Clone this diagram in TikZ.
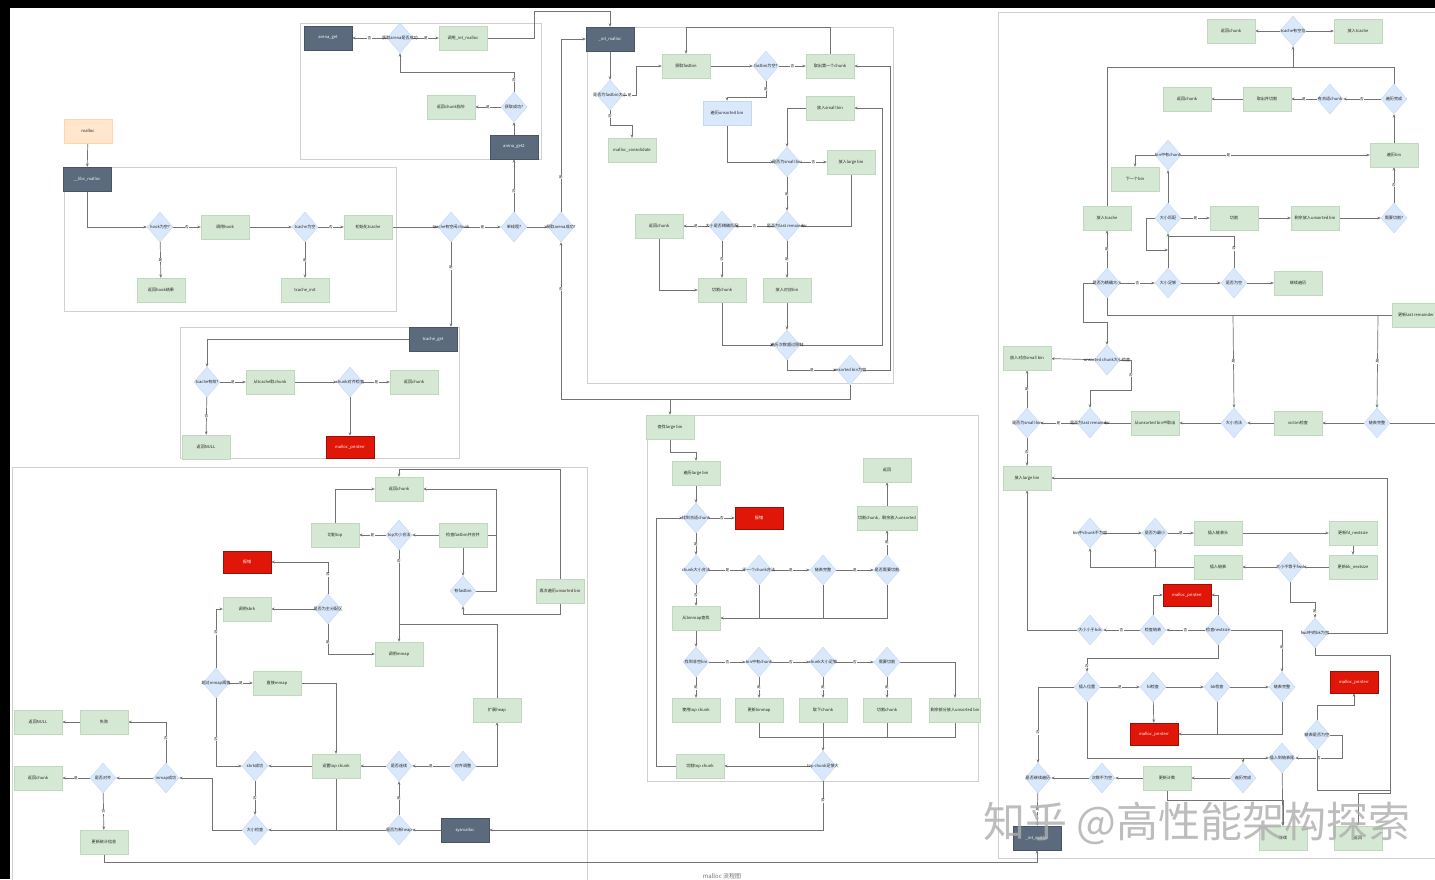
\documentclass[tikz,border=0pt]{standalone}
\usepackage{fontspec}
\setmainfont{Noto Sans CJK SC}
\usetikzlibrary{shapes.geometric,arrows.meta}
\pgfdeclarelayer{bg}
\pgfsetlayers{bg,main}

\definecolor{boxgreen}{RGB}{213,232,212}
\definecolor{boxgreenline}{RGB}{192,216,190}
\definecolor{diablue}{RGB}{218,232,252}
\definecolor{diablueline}{RGB}{198,215,240}
\definecolor{slate}{RGB}{91,106,124}
\definecolor{alarm}{RGB}{224,22,8}
\definecolor{peach}{RGB}{255,230,204}
\definecolor{wire}{RGB}{115,115,115}
\definecolor{framec}{RGB}{208,208,208}
\definecolor{ink}{RGB}{35,35,35}

\tikzset{
  nbase/.style={rectangle, minimum width=48pt, minimum height=24pt, inner sep=1pt,
    font=\fontsize{4.1}{4.8}\selectfont, align=center},
  gbox/.style={nbase, fill=boxgreen, draw=boxgreenline, line width=0.4pt, text=ink},
  bbox/.style={nbase, fill=diablue, draw=diablueline, line width=0.4pt, text=ink},
  kbox/.style={nbase, fill=slate, draw=slate!80!black, line width=0.4pt, text=white},
  rbox/.style={nbase, minimum height=22pt, fill=alarm, draw=alarm!70!black, line width=0.6pt, text=white},
  obox/.style={nbase, fill=peach, draw=peach!85!orange, line width=0.4pt, text=ink},
  dbox/.style={diamond, minimum width=26pt, minimum height=30pt, inner sep=0pt,
    fill=diablue, draw=diablueline, line width=0.4pt},
  lbl/.style={font=\fontsize{4.1}{4.8}\selectfont, text=ink, inner sep=0pt},
  arw/.style={draw=wire, line width=0.7pt, -{Stealth[length=3.4pt,width=2.8pt]}},
  lin/.style={draw=wire, line width=0.7pt},
  yn/.style={font=\fontsize{3.6}{4}\selectfont, text=ink, fill=white, inner sep=0.6pt},
  grp/.style={draw=framec, line width=0.8pt},
}

% node helpers: name, position, text
\newcommand\mkG[3]{\node[gbox] (#1) at (#2) {#3};}
\newcommand\mkB[3]{\node[bbox] (#1) at (#2) {#3};}
\newcommand\mkK[3]{\node[kbox] (#1) at (#2) {#3};}
\newcommand\mkR[3]{\node[rbox] (#1) at (#2) {#3};}
\newcommand\mkO[3]{\node[obox] (#1) at (#2) {#3};}
\newcommand\mkD[3]{\node[dbox] (#1) at (#2) {}; \node[lbl] at (#1.center) {#3};}

\begin{document}
\begin{tikzpicture}[x=1pt,y=-1pt]
\useasboundingbox (0,0) rectangle (1435,879);

% ---------- entry ----------
\mkO{o1}{88,131}{malloc}
\mkK{k1}{87,179}{\_\_libc\_malloc}
\mkD{d1}{160,227}{hook为空?}
\mkG{g1}{225,227}{调用hook}
\mkD{d2}{305,227}{tcache为空}
\mkG{g2}{368,227}{初始化tcache}
\mkG{g3}{161,290}{返回hook结果}
\mkG{g4}{305,290}{tcache\_init}
\mkD{d3}{451,227}{tcache有空闲chunk}
\mkD{d4}{514,227}{单线程?}
\mkD{d5}{561,227}{获取arena成功?}

% ---------- arena ----------
\mkK{k2}{328,38}{arena\_get}
\mkD{d6}{400,38}{获取arena是否成功}
\mkG{g5}{463,38}{调用\_int\_malloc}
\mkD{d7}{514,107}{获取成功?}
\mkG{g6}{451,107}{返回chunk指针}
\mkK{k4}{514,147}{arena\_get2}

% ---------- tcache ----------
\mkK{k3}{433,339}{tcache\_get}
\mkD{d8}{207,382}{tcache有效?}
\mkG{g7}{270,382}{从tcache取chunk}
\mkD{d9}{350,382}{chunk对齐检查}
\mkG{g8}{414,382}{返回chunk}
\mkG{g9}{206,447}{返回NULL}
\mkR{r1}{350,447}{malloc\_printerr}

% ---------- fastbin / unsorted ----------
\mkK{k5}{610,39}{\_int\_malloc}
\mkD{d10}{610,95}{是否为fastbin大小}
\mkG{g10}{686,66}{获取fastbin}
\mkD{d11}{766,66}{fastbin为空?}
\mkG{g11}{830,66}{取出第一个chunk}
\mkG{g12}{632,150}{malloc\_consolidate}
\mkB{b1}{727,113}{遍历unsorted bin}
\mkG{g13}{830,108}{放入small bin}
\mkD{d12}{787,162}{是否为small bin}
\mkG{g14}{851,162}{放入large bin}
\mkD{d13}{787,226}{是否为last remainder}
\mkD{d14}{722,226}{大小是否精确匹配}
\mkG{g15}{659,226}{返回chunk}
\mkG{g16}{722,290}{切割chunk}
\mkG{g17}{787,290}{放入对应bin}
\mkD{d15}{787,345}{遍历次数超过限制}
\mkD{d16}{850,370}{unsorted bin为空}

% ---------- large bin ----------
\mkG{g18}{670,427}{查找large bin}
\mkG{g19}{696,473}{遍历large bin}
\mkD{d17}{696,518}{找到合适chunk}
\mkR{r2}{759,518}{报错}
\mkD{d18}{696,570}{chunk大小合法}
\mkD{d19}{759,570}{下一个chunk合法}
\mkD{d20}{823,570}{链表完整}
\mkD{d21}{887,570}{是否需要切割}
\mkG{g20}{887,518}{切割chunk，剩余放入unsorted}
\mkG{g21}{887,470}{返回}
\mkG{g22}{696,618}{从binmap查找}
\mkD{d22}{696,662}{找到非空bin}
\mkD{d23}{759,662}{bin中有chunk}
\mkD{d24}{823,662}{chunk大小足够}
\mkD{d25}{887,662}{需要切割}
\mkG{g23}{696,710}{使用top chunk}
\mkG{g24}{759,710}{更新binmap}
\mkG{g25}{823,710}{取下chunk}
\mkG{g26}{887,710}{切割chunk}
\mkG{g27}{955,710}{剩余部分放入unsorted bin}
\mkD{d26}{823,766}{top chunk足够大}
\mkG{g28}{700,766}{切割top chunk}

% ---------- sysmalloc ----------
\mkG{g29}{399,489}{返回chunk}
\mkG{g30}{335,535}{切割top}
\mkD{d27}{399,535}{top大小合法}
\mkG{g31}{463,535}{检查fastbin并合并}
\mkD{d28}{463,591}{有fastbin}
\mkG{g32}{560,591}{再次遍历unsorted bin}
\mkR{r3}{247,562}{报错}
\mkD{d29}{328,609}{是否为主分配区}
\mkG{g33}{247,609}{调用sbrk}
\mkG{g34}{399,654}{调用mmap}
\mkD{d30}{216,683}{超过mmap阈值}
\mkG{g35}{277,683}{直接mmap}
\mkG{g36}{497,710}{扩展heap}
\mkG{g37}{336,766}{设置top chunk}
\mkD{d31}{255,766}{sbrk成功}
\mkD{d32}{399,766}{是否连续}
\mkD{d33}{463,766}{对齐调整}
\mkD{d34}{166,778}{mmap成功}
\mkD{d35}{103,778}{是否对齐}
\mkG{g38}{38,778}{返回chunk}
\mkG{g39}{104,722}{失败}
\mkG{g40}{38,722}{返回NULL}
\mkG{g41}{104,842}{更新统计信息}
\mkD{d36}{255,830}{大小检查}
\mkD{d37}{399,830}{是否为新heap}
\mkK{k6}{465,830}{sysmalloc}

% ---------- bins (right) ----------
\mkG{g42}{1231,31}{返回chunk}
\mkD{d38}{1293,31}{tcache有空位}
\mkG{g43}{1358,31}{放入tcache}
\mkG{g45}{1187,99}{返回chunk}
\mkG{g46}{1267,99}{取出并切割}
\mkD{d40}{1330,99}{有合适chunk}
\mkD{d39}{1394,99}{遍历完成}
\mkG{g47}{1394,155}{遍历bin}
\mkD{d41}{1168,155}{bin中有chunk}
\mkG{g48}{1135,179}{下一个bin}
\mkG{g44}{1107,218}{放入tcache}
\mkD{d42}{1168,218}{大小匹配}
\mkG{g49}{1234,218}{切割}
\mkG{g50}{1315,218}{剩余放入unsorted bin}
\mkD{d43}{1394,218}{需要切割?}
\mkD{d46}{1107,283}{是否为精确大小}
\mkD{d44}{1168,283}{大小足够}
\mkD{d45}{1234,283}{是否为空}
\mkG{g51}{1298,283}{继续遍历}
\mkG{g52}{1416,315}{更新last remainder}
\mkD{d47}{1107,360}{unsorted chunk大小检查}
\mkG{g53}{1027,358}{放入对应small bin}
\mkD{d51}{1027,423}{是否为small bin}
\mkD{d48}{1090,423}{是否为last remainder}
\mkG{g54}{1155,423}{从unsorted bin中取出}
\mkD{d49}{1234,423}{大小合法}
\mkG{g55}{1298,423}{victim检查}
\mkD{d50}{1377,423}{链表完整}
\mkG{g56}{1027,478}{放入large bin}
\mkD{d53}{1090,533}{bin中chunk不为空}
\mkD{d54}{1155,533}{是否为最小}
\mkG{g57}{1218,533}{插入链表头}
\mkG{g58}{1353,533}{更新fd\_nextsize}
\mkG{g60}{1218,567}{插入链表}
\mkD{d55}{1290,567}{大小不等于fwd}
\mkG{g59}{1353,567}{更新bk\_nextsize}
\mkR{r4}{1187,595}{malloc\_printerr}
\mkD{d56}{1090,630}{大小小于bck}
\mkD{d57}{1153,630}{检查链表}
\mkD{d58}{1218,630}{检查nextsize}
\mkD{d52}{1315,633}{fwd中的bk为空}
\mkD{d60}{1087,687}{插入位置}
\mkD{d61}{1153,687}{fd检查}
\mkD{d62}{1217,687}{bk检查}
\mkD{d59}{1282,687}{链表完整}
\mkR{r5}{1354,682}{malloc\_printerr}
\mkR{r6}{1154,734}{malloc\_printerr}
\mkD{d65}{1317,735}{链表是否为空}
\mkD{d64}{1282,758}{插入到链表尾}
\mkD{d63}{1038,778}{是否继续遍历}
\mkD{d66}{1102,778}{次数不为空}
\mkG{g63}{1167,778}{更新计数}
\mkD{d67}{1243,778}{遍历完成}
\mkK{k8}{1037,838}{\_int\_malloc}
\mkG{g62}{1283,838}{继续}
\mkG{g61}{1358,838}{返回}

\begin{pgfonlayer}{bg}
% page ground and group frames
\fill[black] (0,0) rectangle (1435,879);
\fill[white] (10,8) rectangle (1435,879);
\draw[grp] (300,23) rectangle (541,159);
\draw[grp] (64,167) rectangle (396,311);
\draw[grp] (180,327) rectangle (459,458);
\draw[grp] (587,27) rectangle (893,383);
\draw[grp] (647,415) rectangle (978,781);
\draw[grp] (12,880) -- (12,467) -- (587,467) -- (587,880);
\draw[grp] (1440,12) -- (998,12) -- (998,858) -- (1440,858);

% entry
\draw[arw] (o1) -- (k1);
\draw[arw] (k1.south) |- (d1.west);
\draw[arw] (d1) -- node[yn]{否} (g1);
\draw[arw] (g1) -- (d2);
\draw[arw] (d2) -- node[yn]{否} (g2);
\draw[arw] (g2) -- (d3);
\draw[arw] (d3) -- node[yn]{是} (d4);
\draw[arw] (d4) -- (d5);
\draw[arw] (d1) -- node[yn]{是} (g3);
\draw[arw] (d2) -- node[yn]{是} (g4);
\draw[arw] (d3.south) -- node[yn,pos=0.3]{是} (d3.south |- k3.north);

% arena
\draw[arw] (d6) -- node[yn]{否} (k2);
\draw[arw] (d6) -- node[yn]{是} (g5);
\draw[arw] (g5.east) -- (534,38) -- (534,11) -| (k5.north);
\draw[arw] (k4) -- (d7);
\draw[arw] (d7) -- node[yn]{是} (g6);
\draw[arw] (d7.north) -- node[yn,pos=0.6]{否} (514,72) -| (d6.south);
\draw[arw] (d4) -- node[yn,pos=0.4]{否} (k4);
\draw[arw] (d5.north) -- node[yn,pos=0.2]{是} (561,39) -- (k5.west);
\draw[arw] (d16.south) -- (850,399) -| node[yn,pos=0.85]{否} (d5.south);
\draw[arw] (670,399) -- (g18.north);

% tcache
\draw[arw] (k3.west) -| (d8.north);
\draw[arw] (d8) -- node[yn]{是} (g7);
\draw[arw] (g7) -- (d9);
\draw[arw] (d9) -- node[yn]{是} (g8);
\draw[arw] (d8) -- node[yn]{否} (g9);
\draw[arw] (d9) -- (r1);

% fastbin / unsorted
\draw[arw] (k5) -- (d10);
\draw[arw] (d10.east) -- node[yn]{是} (636,95) |- (g10.west);
\draw[arw] (d10.south) -- node[yn,pos=0.4]{否} (610,125) -| (g12.north);
\draw[arw] (g10) -- (d11);
\draw[arw] (d11) -- node[yn]{否} (g11);
\draw[arw] (g11.north) -- (830,27) -| (g10.north);
\draw[arw] (d16.east) -- (890,370) |- (g11.east);
\draw[arw] (d11.south) -- node[yn,pos=0.5]{是} (766,97) -| (b1.north);
\draw[arw] (b1.south) |- (d12.west);
\draw[arw] (g13.west) -| (d12.north);
\draw[arw] (d12) -- node[yn]{否} (g14);
\draw[arw] (d12) -- node[yn]{是} (d13);
\draw[arw] (g14.south) |- (d13.east);
\draw[arw] (d13) -- node[yn]{否} (d14);
\draw[arw] (d14) -- node[yn]{是} (g15);
\draw[arw] (d14) -- node[yn]{否} (g16);
\draw[arw] (d13) -- node[yn]{是} (g17);
\draw[arw] (g15.south) |- (g16.west);
\draw[arw] (g17) -- (d15);
\draw[arw] (g16.south) |- (d15.west);
\draw[arw] (d15.east) -- (882,345) |- (g13.east);
\draw[arw] (d15.south) |- node[yn,pos=0.75]{是} (d16.west);

% large bin
\draw[arw] (g18.south) -- (670,452) -| (g19.north);
\draw[arw] (g19) -- (d17);
\draw[arw] (d17) -- node[yn]{否} (r2);
\draw[arw] (d17) -- node[yn]{是} (d18);
\draw[arw] (d18) -- node[yn]{是} (d19);
\draw[arw] (d19) -- node[yn]{是} (d20);
\draw[arw] (d20) -- node[yn]{是} (d21);
\draw[arw] (d21) -- node[yn]{是} (g20);
\draw[arw] (g20) -- (g21);
\draw[arw] (d21.south) |- (g22.east);
\draw[lin] (d19.south) -- (d19.south |- g22.east);
\draw[lin] (d20.south) -- (d20.south |- g22.east);
\draw[arw] (d18) -- node[yn]{否} (g22);
\draw[arw] (g22) -- (d22);
\draw[arw] (d22) -- node[yn]{否} (d23);
\draw[arw] (d23) -- node[yn]{否} (d24);
\draw[arw] (d24) -- node[yn]{否} (d25);
\draw[arw] (d25.east) -| (g27.north);
\draw[arw] (d22) -- node[yn]{是} (g23);
\draw[arw] (d23) -- node[yn]{是} (g24);
\draw[arw] (d24) -- node[yn]{是} (g25);
\draw[arw] (d25) -- node[yn]{是} (g26);
\draw[lin] (g24.south) -- (759,737) -- (955,737) -- (g27.south);
\draw[lin] (g26.south) -- (887,737);
\draw[arw] (g25.south) -- (d26.north);
\draw[arw] (d26) -- (g28);
\draw[arw] (g28.west) -- (656,766) |- (d17.west);
\draw[arw] (d26.south) |- node[yn,pos=0.2]{否} (k6.east);

% sysmalloc
\draw[arw] (g32.north) |- (399,469) -- (g29.north);
\draw[arw] (g30.north) |- (g29.west);
\draw[arw] (d28.east) -- (496,591) |- (g29.east);
\draw[lin] (g31.east) -- (496,535);
\draw[arw] (d27) -- node[yn]{是} (g30);
\draw[arw] (g31) -- (d27);
\draw[arw] (g31) -- (d28);
\draw[arw] (g32.south) -- (560,614) -- (463,614) -- (d28.south);
\draw[arw] (d27) -- node[yn,pos=0.12]{否} (g34);
\draw[lin] (g36.north) |- (399,624);
\draw[arw] (d29.north) |- node[yn,pos=0.3]{否} (r3.east);
\draw[arw] (d29) -- (g33);
\draw[arw] (d29.south) |- node[yn,pos=0.3]{是} (g34.west);
\draw[arw] (d30.north) |- node[yn,pos=0.3]{否} (g33.west);
\draw[arw] (d30) -- node[yn]{是} (g35);
\draw[arw] (g35.east) -| (g37.north);
\draw[arw] (d30.south) |- node[yn,pos=0.3]{否} (d31.west);
\draw[arw] (g37) -- (d31);
\draw[arw] (d32) -- (g37);
\draw[arw] (d33) -- node[yn]{是} (d32);
\draw[arw] (d33.east) -| (g36.south);
\draw[arw] (d31) -- node[yn]{否} (d36);
\draw[arw] (d37) -- node[yn]{是} (d32);
\draw[lin] (g37.south) -- (336,830);
\draw[arw] (d37.west) -- (d36.east);
\draw[arw] (d36.west) -- (212,830) |- (d34.east);
\draw[arw] (d34) -- (d35);
\draw[arw] (d35) -- node[yn]{是} (g38);
\draw[arw] (d34.north) |- node[yn,pos=0.3]{否} (g39.east);
\draw[arw] (g39) -- (g40);
\draw[arw] (d35) -- node[yn]{否} (g41);
\draw[arw] (g41.south) -- (104,862) -| (k8.south);
\draw[arw] (k6) -- (d37);

% bins (right)
\draw[arw] (d38) -- (g42);
\draw[arw] (d38) -- (g43);
\draw[arw] (g44.north) -- (1107,67) -| (d38.south);
\draw[lin] (d39.north) |- (1293,67);
\draw[arw] (g46) -- (g45);
\draw[arw] (d40) -- node[yn]{是} (g46);
\draw[arw] (d39) -- node[yn]{否} (d40);
\draw[arw] (g47) -- (d39);
\draw[arw] (d41) -- node[yn,pos=0.25]{是} (g47);
\draw[arw] (d41.west) -| (g48.north);
\draw[arw] (d44.north) -- (d42.south);
\draw[lin] (d45.north) |- node[yn,pos=0.3]{否} (1168,236);
\draw[arw] (d42.west) -- (1146,218) |- (1168,250);
\draw[arw] (d42) -- (d41);
\draw[arw] (d42) -- node[yn]{是} (g49);
\draw[arw] (g49) -- (g50);
\draw[arw] (g50) -- (d43);
\draw[arw] (d43) -- node[yn]{否} (g47);
\draw[arw] (d46) -- node[yn]{是} (g44);
\draw[arw] (d46) -- node[yn]{否} (d44);
\draw[arw] (d44) -- (d45);
\draw[arw] (d45) -- (g51);
\draw[lin] (d46.south) |- (g52.west);
\draw[arw] (1233,315) -- node[yn]{是} (d49.north);
\draw[arw] (1378,315) -- node[yn]{是} (d50.north);
\draw[arw] (d46.west) -- (1083,283) -- (1083,322) -| (d47.north);
\draw[arw] (d47) -- (g53);
\draw[arw] (d47.east) -- (1131,360) -- node[yn]{否} (1131,390) -| (d48.north);
\draw[arw] (d48) -- node[yn]{是} (d51);
\draw[arw] (d49) -- (g54);
\draw[arw] (g54) -- (d48);
\draw[arw] (g55) -- (d49);
\draw[arw] (d50) -- (g55);
\draw[lin] (d50.east) -- (1436,423);
\draw[arw] (d51) -- node[yn]{是} (g53);
\draw[arw] (d51) -- node[yn]{否} (g56);
\draw[arw] (d52.east) -- (1387,633) |- (g56.east);
\draw[arw] (d53) -- (d54);
\draw[arw] (d54) -- node[yn]{是} (g57);
\draw[arw] (g57) -- (g58);
\draw[arw] (g58) -- (g59);
\draw[arw] (g59) -- (d55);
\draw[arw] (d55) -- (g60);
\draw[arw] (g60.west) -| (d53.south);
\draw[arw] (1155,567) -- (d54.south);
\draw[arw] (d55.south) -- (1290,602) -| node[yn,pos=0.8]{是} (d52.north);
\draw[arw] (d52.south) -- (1315,655) -- (1390,655) -- (1390,793) -- (1358,793) -- (g61.north);
\draw[arw] (d57.north) |- (r4.west);
\draw[arw] (d58.north) |- (r4.east);
\draw[arw] (d58) -- node[yn]{否} (d57);
\draw[arw] (d57) -- node[yn]{否} (d56);
\draw[arw] (d56.west) -| (g56.south);
\draw[arw] (d58.east) -| node[yn,pos=0.7]{是} (d59.north);
\draw[arw] (d58.south) -- (1218,658) -| node[yn,pos=0.8]{否} (d60.north);
\draw[arw] (d60) -- node[yn]{是} (d61);
\draw[arw] (d61) -- (d62);
\draw[arw] (d62) -- (d59);
\draw[arw] (d60.west) -| node[yn,pos=0.8]{否} (d63.north);
\draw[arw] (d60.south) |- (d64.west);
\draw[arw] (d61) -- (r6);
\draw[arw] (d62.south) |- (r6.east);
\draw[lin] (d59.south) -- (1282,734) -- (1217,734);
\draw[arw] (d65.north) -- (1317,705) -| (r5.south);
\draw[arw] (d65.east) -- (1342,735) |- node[yn,pos=0.75]{否} (d64.east);
\draw[arw] (d64) -- (g62);
\draw[lin] (d65.south) |- (1390,790);
\draw[arw] (d66) -- (d63);
\draw[arw] (g63) -- (d66);
\draw[arw] (d67) -- (g63);
\draw[arw] (1243,758) -- (d67.north);
\draw[arw] (g63.south) -- (1167,800) -| (g62.north);
\draw[arw] (d63) -- node[yn]{是} (k8);
\end{pgfonlayer}

% caption at the foot and the site watermark
\node[anchor=north, font=\fontsize{6}{6}\selectfont, text=black!55, inner sep=0pt] (cap) at (722,873) {malloc 流程图};
\node[anchor=west, font=\fontsize{42}{42}\selectfont, text=black!32, text opacity=0.8, inner sep=0pt] (wm) at (983,823) {知乎 @高性能架构探索};
\end{tikzpicture}
\end{document}
